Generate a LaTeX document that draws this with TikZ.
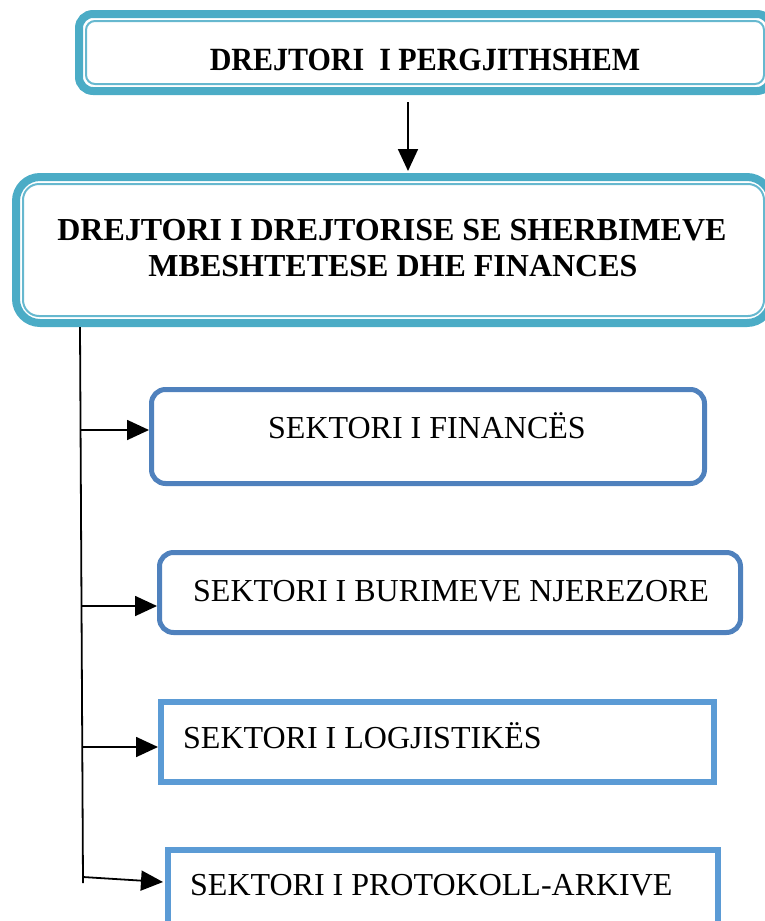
\documentclass[tikz,border=0pt]{standalone}
\usepackage{fontspec}
\setmainfont{Liberation Serif}
\usetikzlibrary{arrows.meta}

\definecolor{headteal}{HTML}{4BACC6}
\definecolor{secblue}{HTML}{4F81BD}
\definecolor{seclight}{HTML}{5B9BD5}

\tikzset{
  headbox/.style={draw=headteal, line width=8pt, rounded corners=14pt, inner sep=0pt},
  headinner/.style={draw=headteal!85, line width=2pt, rounded corners=9pt},
  roundsector/.style={draw=secblue, line width=5pt, rounded corners=14pt, inner sep=0pt},
  flatsector/.style={draw=seclight, line width=6pt, inner sep=0pt},
  titletext/.style={font=\fontsize{30}{36}\selectfont\bfseries, inner sep=0pt, anchor=base},
  headtext/.style={font=\fontsize{32}{37}\selectfont\bfseries, inner sep=0pt, anchor=base},
  sectext/.style={font=\fontsize{32}{37}\selectfont, inner sep=0pt},
  feed/.style={line width=1.8pt, -{Triangle[length=22pt,width=20pt]}},
}

\begin{document}
\begin{tikzpicture}[x=1pt,y=-1pt]
\useasboundingbox (0,0) rectangle (765,921);
\clip (0,0) rectangle (765,921);

\node[headbox, minimum width=692, minimum height=77] (top) at (425,52.5) {};
\draw[headinner] ([shift={(11,11)}]top.north west) rectangle ([shift={(-11,-11)}]top.south east);
\node[titletext] (toptitle) at (425,70) {\scalebox{1}[1.08]{DREJTORI\ \ I PERGJITHSHEM}};

\node[headbox, rounded corners=24pt, minimum width=755, minimum height=146] (dir) at (393.5,250) {};
\draw[headinner, rounded corners=16pt] ([shift={(11,11)}]dir.north west) rectangle ([shift={(-11,-11)}]dir.south east);
\node[headtext] (dirline1) at (392,240) {DREJTORI I DREJTORISE SE SHERBIMEVE};
\node[headtext] (dirline2) at (393,276) {MBESHTETESE DHE FINANCES};

\draw[feed] (408,102) -- (408,171);

\node[roundsector, minimum width=553, minimum height=94] (fin) at (428,436.5) {};
\node[sectext, anchor=base] (fintext) at (427,438) {SEKTORI I FINANCËS};

\node[roundsector, minimum width=581, minimum height=80] (hr) at (450,592.5) {};
\node[sectext, anchor=base west] (hrtext) at (193,601) {SEKTORI I BURIMEVE NJEREZORE};

\node[flatsector, minimum width=553, minimum height=80] (log) at (437.5,742) {};
\node[sectext, anchor=base west] (logtext) at (183,748) {SEKTORI I LOGJISTIKËS};

\node[flatsector, minimum width=550, minimum height=76] (pa) at (443,888) {};
\node[sectext, anchor=base west] (patext) at (190,895) {SEKTORI I PROTOKOLL-ARKIVE};

\coordinate (trunktop) at (80,327);
\coordinate (trunkend) at (83,883);
\draw[line width=1.8pt] (trunktop) -- (trunkend);

\coordinate (b1) at (80.5,430);
\coordinate (b2) at (81.5,606);
\coordinate (b3) at (82,747);
\coordinate (b4) at (83,877);
\coordinate (t4) at (163,882);
\draw[feed] (b1) -- (b1 -| fin.west);
\draw[feed] (b2) -- (b2 -| hr.west);
\draw[feed] (b3) -- (b3 -| log.west);
\draw[feed] (b4) -- (t4);
\end{tikzpicture}
\end{document}
